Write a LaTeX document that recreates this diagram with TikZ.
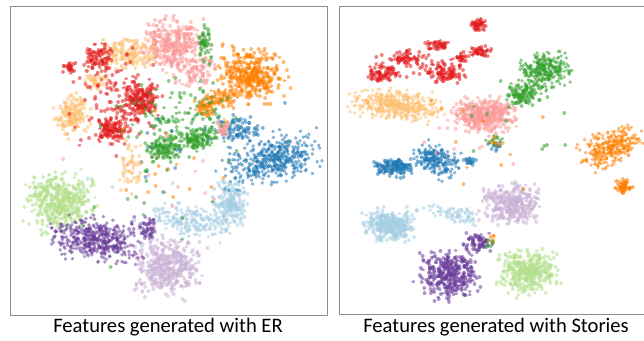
\documentclass[tikz,border=0pt]{standalone}
\usepackage{fontspec}
\setmainfont{Carlito}
% Paired palette
\definecolor{pLBlue}{HTML}{A6CEE3}
\definecolor{pBlue}{HTML}{1F78B4}
\definecolor{pLGreen}{HTML}{B2DF8A}
\definecolor{pGreen}{HTML}{33A02C}
\definecolor{pPink}{HTML}{FB9A99}
\definecolor{pRed}{HTML}{E31A1C}
\definecolor{pLOrange}{HTML}{FDBF6F}
\definecolor{pOrange}{HTML}{FF7F00}
\definecolor{pLPurple}{HTML}{CAB2D6}
\definecolor{pPurple}{HTML}{6A3D9A}
\tikzset{
  frame/.style={draw=gray!90,line width=0.9pt},
  caption/.style={font=\fontsize{20.6}{24}\selectfont,inner sep=0pt,anchor=center}
}
% one scatter cluster: each point is a round-capped stroke of almost zero length
% #1 colour, #2 #3 centre, #4 #5 spread, #6 rotation, #7 number of points
\newcommand\ptcloud[7]{%
  \begin{scope}[shift={(#2,#3)},rotate=#6]
    \pgfsetcolor{#1}\pgfsetstrokeopacity{0.55}%
    \pgfsetlinewidth{3.8pt}\pgfsetroundcap
    \foreach \k in {1,...,#7}{%
      \pgfmathsetmacro\px{#4*(rand+rand+0.5*rand)/1.25}%
      \pgfmathsetmacro\py{#5*(rand+rand+0.5*rand)/1.25}%
      \pgfpathmoveto{\pgfpointxy{\px}{\py}}%
      \pgfpathlineto{\pgfpointxy{\px+0.02}{\py}}%
      \pgfusepath{stroke}%
    }
  \end{scope}}
\begin{document}
\begin{tikzpicture}[x=1pt,y=-1pt]
\useasboundingbox (0,0) rectangle (644,340);
\pgfmathsetseed{4242}

% ---------- left: ER ----------
\ptcloud{pLGreen}{60}{201}{22}{19}{0}{450}
\ptcloud{pLPurple}{167}{266}{22}{19}{0}{420}
\ptcloud{pLBlue}{230}{205}{11}{18}{0}{200}
\ptcloud{pLBlue}{190}{222}{24}{10}{-10}{200}
\ptcloud{pPurple}{97}{240}{29}{14}{-8}{460}
\ptcloud{pPurple}{145}{228}{9}{7}{0}{50}
\ptcloud{pBlue}{272}{160}{30}{15}{15}{420}
\ptcloud{pBlue}{240}{130}{14}{9}{0}{80}
\ptcloud{pOrange}{250}{74}{22}{18}{0}{380}
\ptcloud{pOrange}{222}{98}{10}{8}{0}{60}
\ptcloud{pOrange}{205}{108}{7}{7}{0}{50}
\ptcloud{pPink}{175}{45}{21}{17}{0}{350}
\ptcloud{pPink}{195}{72}{13}{9}{0}{80}
\ptcloud{pPink}{223}{128}{5}{5}{0}{30}
\ptcloud{pLOrange}{72}{115}{11}{13}{0}{150}
\ptcloud{pLOrange}{130}{55}{20}{11}{0}{140}
\ptcloud{pLOrange}{130}{165}{7}{20}{0}{50}
\ptcloud{pLOrange}{95}{80}{7}{7}{0}{40}
\ptcloud{pRed}{140}{100}{13}{12}{0}{180}
\ptcloud{pRed}{112}{130}{11}{9}{0}{110}
\ptcloud{pRed}{97}{57}{9}{10}{0}{80}
\ptcloud{pRed}{70}{68}{5}{4}{0}{25}
\ptcloud{pRed}{115}{95}{28}{36}{0}{130}
\ptcloud{pGreen}{163}{148}{11}{9}{0}{110}
\ptcloud{pGreen}{197}{140}{13}{9}{0}{110}
\ptcloud{pGreen}{178}{118}{36}{28}{0}{140}
\ptcloud{pGreen}{205}{42}{5}{13}{0}{50}
% stray points
\ptcloud{pOrange}{170}{170}{60}{45}{0}{18}
\ptcloud{pBlue}{200}{140}{50}{45}{0}{18}
\ptcloud{pGreen}{150}{190}{50}{45}{0}{18}
\ptcloud{pPink}{150}{150}{50}{50}{0}{14}
\ptcloud{pLBlue}{150}{210}{45}{35}{0}{14}

% ---------- right: Stories ----------
\ptcloud{pRed}{478}{25}{5}{4}{0}{50}
\ptcloud{pRed}{438}{45}{8}{4}{0}{45}
\ptcloud{pRed}{480}{52}{8}{4}{0}{45}
\ptcloud{pRed}{382}{72}{10}{6}{0}{80}
\ptcloud{pRed}{405}{58}{9}{5}{0}{55}
\ptcloud{pRed}{445}{72}{13}{6}{0}{90}
\ptcloud{pRed}{462}{58}{4}{4}{0}{20}
\ptcloud{pRed}{420}{65}{35}{13}{0}{40}
\ptcloud{pLOrange}{397}{105}{29}{10}{-5}{420}
\ptcloud{pPink}{485}{115}{20}{11}{0}{400}
\ptcloud{pGreen}{545}{70}{17}{12}{15}{280}
\ptcloud{pGreen}{522}{95}{10}{7}{0}{110}
\ptcloud{pOrange}{612}{147}{20}{11}{25}{280}
\ptcloud{pOrange}{623}{187}{6}{5}{0}{55}
\ptcloud{pBlue}{395}{167}{13}{6}{0}{140}
\ptcloud{pBlue}{435}{160}{15}{10}{-20}{210}
\ptcloud{pBlue}{470}{163}{4}{4}{0}{20}
\ptcloud{pLBlue}{390}{225}{16}{10}{0}{350}
\ptcloud{pLBlue}{455}{215}{18}{5}{-10}{80}
\ptcloud{pLPurple}{512}{205}{19}{13}{0}{350}
\ptcloud{pLGreen}{527}{272}{19}{14}{0}{350}
\ptcloud{pPurple}{450}{275}{19}{15}{0}{350}
\ptcloud{pPurple}{478}{243}{9}{7}{0}{70}
% small mixed groups and strays
\ptcloud{pGreen}{495}{142}{5}{4}{0}{15}
\ptcloud{pBlue}{495}{145}{5}{4}{0}{10}
\ptcloud{pOrange}{497}{143}{4}{4}{0}{6}
\ptcloud{pOrange}{490}{240}{4}{4}{0}{6}
\ptcloud{pGreen}{490}{242}{4}{4}{0}{6}
\ptcloud{pGreen}{520}{120}{45}{25}{0}{18}
\ptcloud{pOrange}{480}{150}{50}{35}{0}{12}
\ptcloud{pPink}{450}{140}{45}{25}{0}{10}

% ---------- frames and captions ----------
\draw[frame] (10,6) rectangle (327,315);
\draw[frame] (646,6) -- (339,6) -- (339,314) -- (646,314);
\node[caption] (capER) at (168,327) {Features generated with ER};
\node[caption] (capStories) at (496,327) {Features generated with Stories};
\end{tikzpicture}
\end{document}
